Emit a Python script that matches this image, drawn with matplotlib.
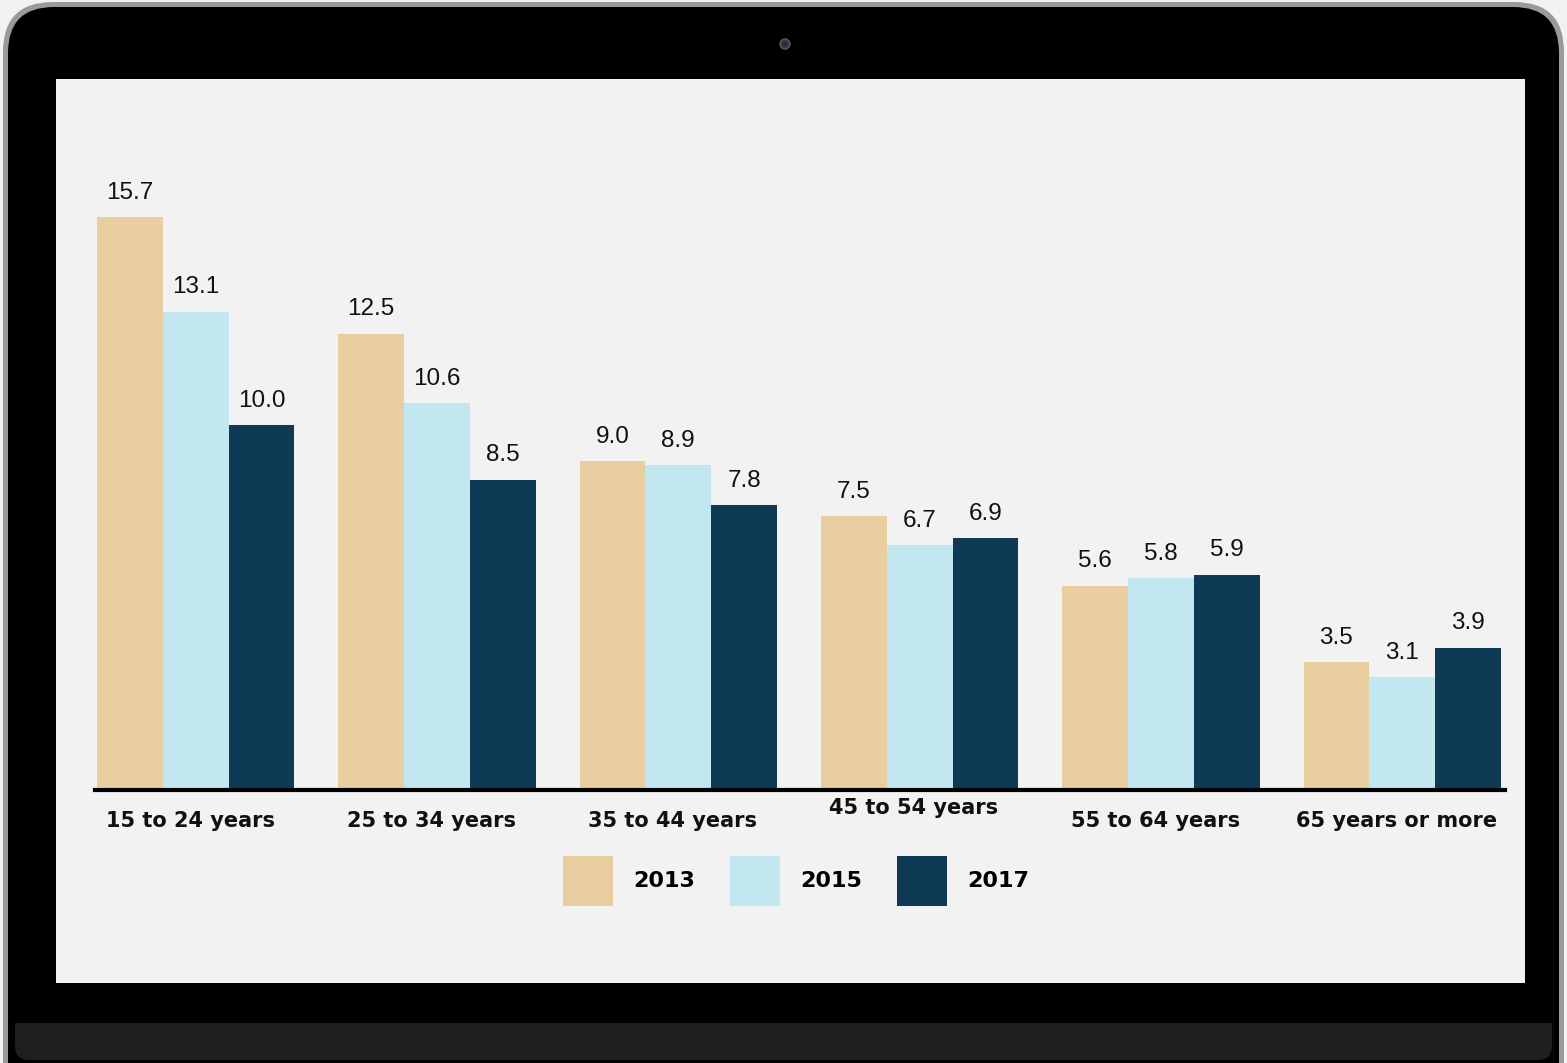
import numpy as np
import matplotlib.pyplot as plt
from matplotlib.patches import FancyBboxPatch, Rectangle, Circle

categories = ["15 to 24 years", "25 to 34 years", "35 to 44 years",
              "45 to 54 years", "55 to 64 years", "65 years or more"]
years = ["2013", "2015", "2017"]
v2013 = [15.7, 12.5, 9.0, 7.5, 5.6, 3.5]
v2015 = [13.1, 10.6, 8.9, 6.7, 5.8, 3.1]
v2017 = [10.0, 8.5, 7.8, 6.9, 5.9, 3.9]
colors = ["#e9cf9f", "#c3e7f0", "#0e3a55"]

W, H = 1567, 1063
fig = plt.figure(figsize=(W / 100, H / 100), dpi=100)
fig.patch.set_facecolor("#f2f2f2")

# laptop frame, drawn in pixel coordinates
bg = fig.add_axes([0, 0, 1, 1])
bg.set_xlim(0, W)
bg.set_ylim(H, 0)
bg.axis("off")
bg.add_patch(FancyBboxPatch((3 + 50, 2 + 50), W - 6 - 100, 1080, boxstyle="round,pad=50",
                            fc="#9a9a9a", ec="none"))
bg.add_patch(FancyBboxPatch((8 + 46, 7 + 46), W - 16 - 92, 1080, boxstyle="round,pad=46",
                            fc="#000000", ec="none"))
bg.add_patch(FancyBboxPatch((15, 1023), W - 30, 37, boxstyle="round,pad=0,rounding_size=14",
                            fc="#1f1f22", ec="none"))
bg.add_patch(Rectangle((15, 1023), W - 30, 15, fc="#1f1f22", ec="none"))
bg.add_patch(Rectangle((56, 79), 1469, 904, fc="#f2f2f2", ec="none"))
bg.add_patch(Circle((785, 44), 5, fc="#3a3a3a", ec="#5a5a5a", lw=1))
bg.add_patch(Circle((785, 44), 2, fc="#1c2350", ec="none"))

# chart
ax = fig.add_axes([95 / W, (H - 790) / H, 1410 / W, 640 / H])
ax.patch.set_alpha(0)
x = np.arange(len(categories))
bw = 65.8 / 241.3
for j, (vals, yr) in enumerate(zip([v2013, v2015, v2017], years)):
    bars = ax.bar(x + (j - 1) * bw, vals, width=bw, color=colors[j], label=yr)
    for b, v in zip(bars, vals):
        ax.annotate(f"{v:.1f}", (b.get_x() + b.get_width() / 2, v), xytext=(0, 17.5),
                    textcoords="offset points", ha="center", va="center",
                    fontsize=17.5, family="Liberation Sans", color="#111111")

ax.set_xlim(-0.4173, 5.426)
ax.set_ylim(0, 17.53)
for s in ["top", "right", "left"]:
    ax.spines[s].set_visible(False)
ax.spines["bottom"].set_linewidth(3)
ax.spines["bottom"].set_color("black")
ax.set_yticks([])
ax.set_xticks([])

label_drop = [22, 22, 22, 13, 22, 22]
for i, (c, d) in enumerate(zip(categories, label_drop)):
    ax.annotate(c, (x[i], 0), xytext=(-4, -d), textcoords="offset points",
                xycoords=("data", "axes fraction"), ha="center", va="center",
                fontsize=15, fontweight="bold", family="DejaVu Sans", color="#111111")

fig.legend(loc="center", bbox_to_anchor=(796 / W, 1 - 881 / H), ncol=3, frameon=False,
           handlelength=2.25, handleheight=3.08, handletextpad=0.9, columnspacing=1.58,
           prop={"family": "DejaVu Sans", "weight": "bold", "size": 16})

fig.savefig("out.png", dpi=100, facecolor=fig.get_facecolor())
